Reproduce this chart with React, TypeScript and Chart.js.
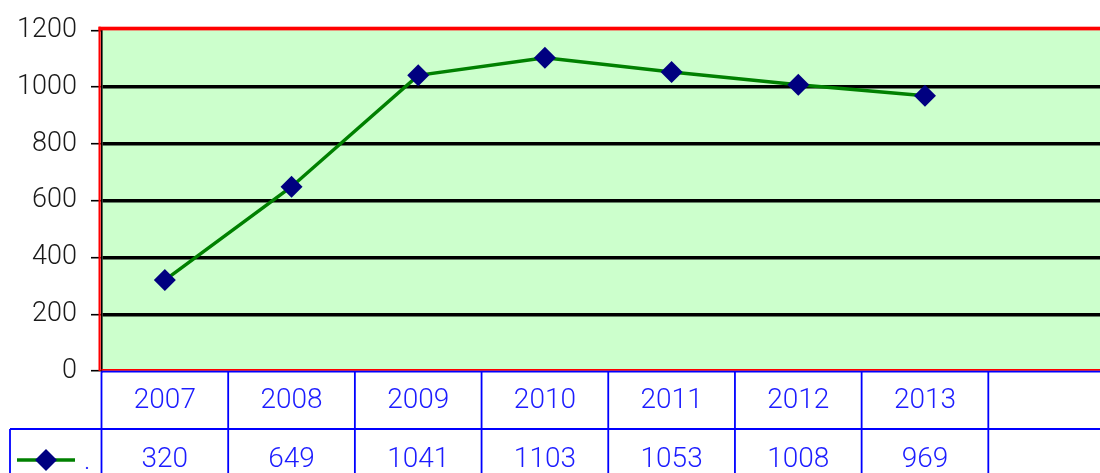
import React, { useEffect, useRef } from 'react';
import { Chart, registerables } from 'chart.js';

Chart.register(...registerables);

const categories = ['2007', '2008', '2009', '2010', '2011', '2012', '2013', ''];
const values: (number | null)[] = [320, 649, 1041, 1103, 1053, 1008, 969, null];
const seriesName = '.';
const yMin = 0;
const yMax = 1200;
const yStep = 200;

const FONT = "Roboto, 'Liberation Sans', sans-serif";
const BLUE = '#0000ff';
const TEXT_BLUE = '#1c1cff';
const LINE_GREEN = '#008000';
const MARKER = '#000080';
const PLOT_BG = '#ccffcc';
const FRAME_RED = '#ff0000';

const backgroundPlugin = {
  id: 'plotBackground',
  beforeDraw(chart: any) {
    const { ctx, chartArea } = chart;
    ctx.save();
    ctx.fillStyle = PLOT_BG;
    ctx.fillRect(chartArea.left, chartArea.top, chartArea.right - chartArea.left, chartArea.bottom - chartArea.top);
    ctx.restore();
  },
};

const framePlugin = {
  id: 'plotFrame',
  beforeDatasetsDraw(chart: any) {
    const { ctx, chartArea } = chart;
    const { left, right, top, bottom } = chartArea;
    ctx.save();
    ctx.fillStyle = FRAME_RED;
    ctx.fillRect(left - 3, top - 3.5, right - left + 3, 3.7);
    ctx.fillRect(left - 3, top - 3.5, 2.2, bottom - top + 3.5);
    ctx.fillRect(left, bottom - 2, right - left, 1.8);
    ctx.restore();
  },
};

const tablePlugin = {
  id: 'dataTable',
  afterDraw(chart: any) {
    const { ctx, chartArea, scales } = chart;
    const x = scales.x;
    const n = categories.length;
    const colW = (x.right - x.left) / n;
    const tableTop = chartArea.bottom + 0.6;
    const rowH = 57.4;
    const row2 = tableTop + rowH;
    const H = chart.height;
    const cellLeft = 10;

    ctx.save();
    ctx.strokeStyle = BLUE;
    ctx.lineWidth = 1.8;
    ctx.beginPath();
    ctx.moveTo(x.left, tableTop);
    ctx.lineTo(x.right, tableTop);
    ctx.moveTo(cellLeft, row2);
    ctx.lineTo(x.right, row2);
    for (let i = 0; i <= n; i++) {
      const bx = x.left + i * colW;
      ctx.moveTo(bx, tableTop);
      ctx.lineTo(bx, H);
    }
    ctx.moveTo(cellLeft, row2);
    ctx.lineTo(cellLeft, H);
    ctx.stroke();

    ctx.fillStyle = TEXT_BLUE;
    ctx.font = `300 28px ${FONT}`;
    ctx.textAlign = 'center';
    ctx.textBaseline = 'middle';
    values.forEach((v, i) => {
      if (v === null) return;
      ctx.fillText(String(v), x.getPixelForValue(i), row2 + 30.5);
    });

    const ds = chart.data.datasets[0];
    const cy = row2 + 31;
    ctx.strokeStyle = ds.borderColor;
    ctx.lineWidth = ds.borderWidth;
    ctx.beginPath();
    ctx.moveTo(cellLeft + 7, cy);
    ctx.lineTo(cellLeft + 65, cy);
    ctx.stroke();
    const cx = cellLeft + 36;
    const r = ds.pointRadius;
    ctx.fillStyle = ds.pointBackgroundColor;
    ctx.beginPath();
    ctx.moveTo(cx, cy - r);
    ctx.lineTo(cx + r, cy);
    ctx.lineTo(cx, cy + r);
    ctx.lineTo(cx - r, cy);
    ctx.closePath();
    ctx.fill();

    ctx.fillStyle = TEXT_BLUE;
    ctx.font = `bold 14px ${FONT}`;
    ctx.textAlign = 'left';
    ctx.textBaseline = 'alphabetic';
    ctx.fillText(ds.label, cellLeft + 75, cy + 9);
    ctx.restore();
  },
};

export default function App() {
  const canvasRef = useRef<HTMLCanvasElement | null>(null);

  useEffect(() => {
    if (!canvasRef.current) return;
    const chart = new Chart(canvasRef.current, {
      type: 'line',
      data: {
        labels: categories,
        datasets: [
          {
            label: seriesName,
            data: values,
            borderColor: LINE_GREEN,
            borderWidth: 3.4,
            tension: 0,
            pointStyle: 'rectRot',
            pointRadius: 11,
            pointHoverRadius: 11,
            pointBackgroundColor: MARKER,
            pointBorderColor: MARKER,
            pointBorderWidth: 0,
            clip: false as any,
          },
        ],
      },
      options: {
        animation: false,
        responsive: false,
        maintainAspectRatio: false,
        devicePixelRatio: 1,
        layout: { autoPadding: false, padding: { top: 28.5, left: 0, right: 0, bottom: 0 } },
        plugins: {
          legend: { display: false },
          tooltip: { enabled: false },
        },
        events: [],
        scales: {
          x: {
            type: 'category',
            offset: true,
            grid: { display: false, drawTicks: false },
            border: { display: false },
            ticks: {
              color: TEXT_BLUE,
              font: { family: FONT, size: 28, weight: '300' as any, lineHeight: '60px' as any },
              padding: 0,
              maxRotation: 0,
              autoSkip: false,
            },
            afterFit: (scale: any) => {
              scale.height = 102;
            },
          },
          y: {
            min: yMin,
            max: yMax,
            ticks: {
              stepSize: yStep,
              color: '#1a1a1a',
              font: { family: FONT, size: 27, weight: '300' as any },
              padding: 14,
              callback: (v: any) => String(v),
            },
            grid: {
              color: (c: any) =>
                c.tick && (c.tick.value === yMin || c.tick.value === yMax) ? 'rgba(0,0,0,0)' : '#000000',
              lineWidth: 3.4,
              tickColor: '#000000',
              tickWidth: 1.6,
              tickLength: 10.5,
            },
            border: { display: true, color: '#000000', width: 1.6 },
            afterFit: (scale: any) => {
              scale.width = 101.5;
            },
          },
        },
      },
      plugins: [backgroundPlugin, framePlugin, tablePlugin],
    });
    return () => chart.destroy();
  }, []);

  return (
    <div
      style={{
        position: 'fixed',
        left: 0,
        top: 0,
        width: 1100,
        height: 473,
        overflow: 'hidden',
        background: '#ffffff',
      }}
    >
      <canvas ref={canvasRef} width={1115} height={473} style={{ display: 'block' }} />
    </div>
  );
}
